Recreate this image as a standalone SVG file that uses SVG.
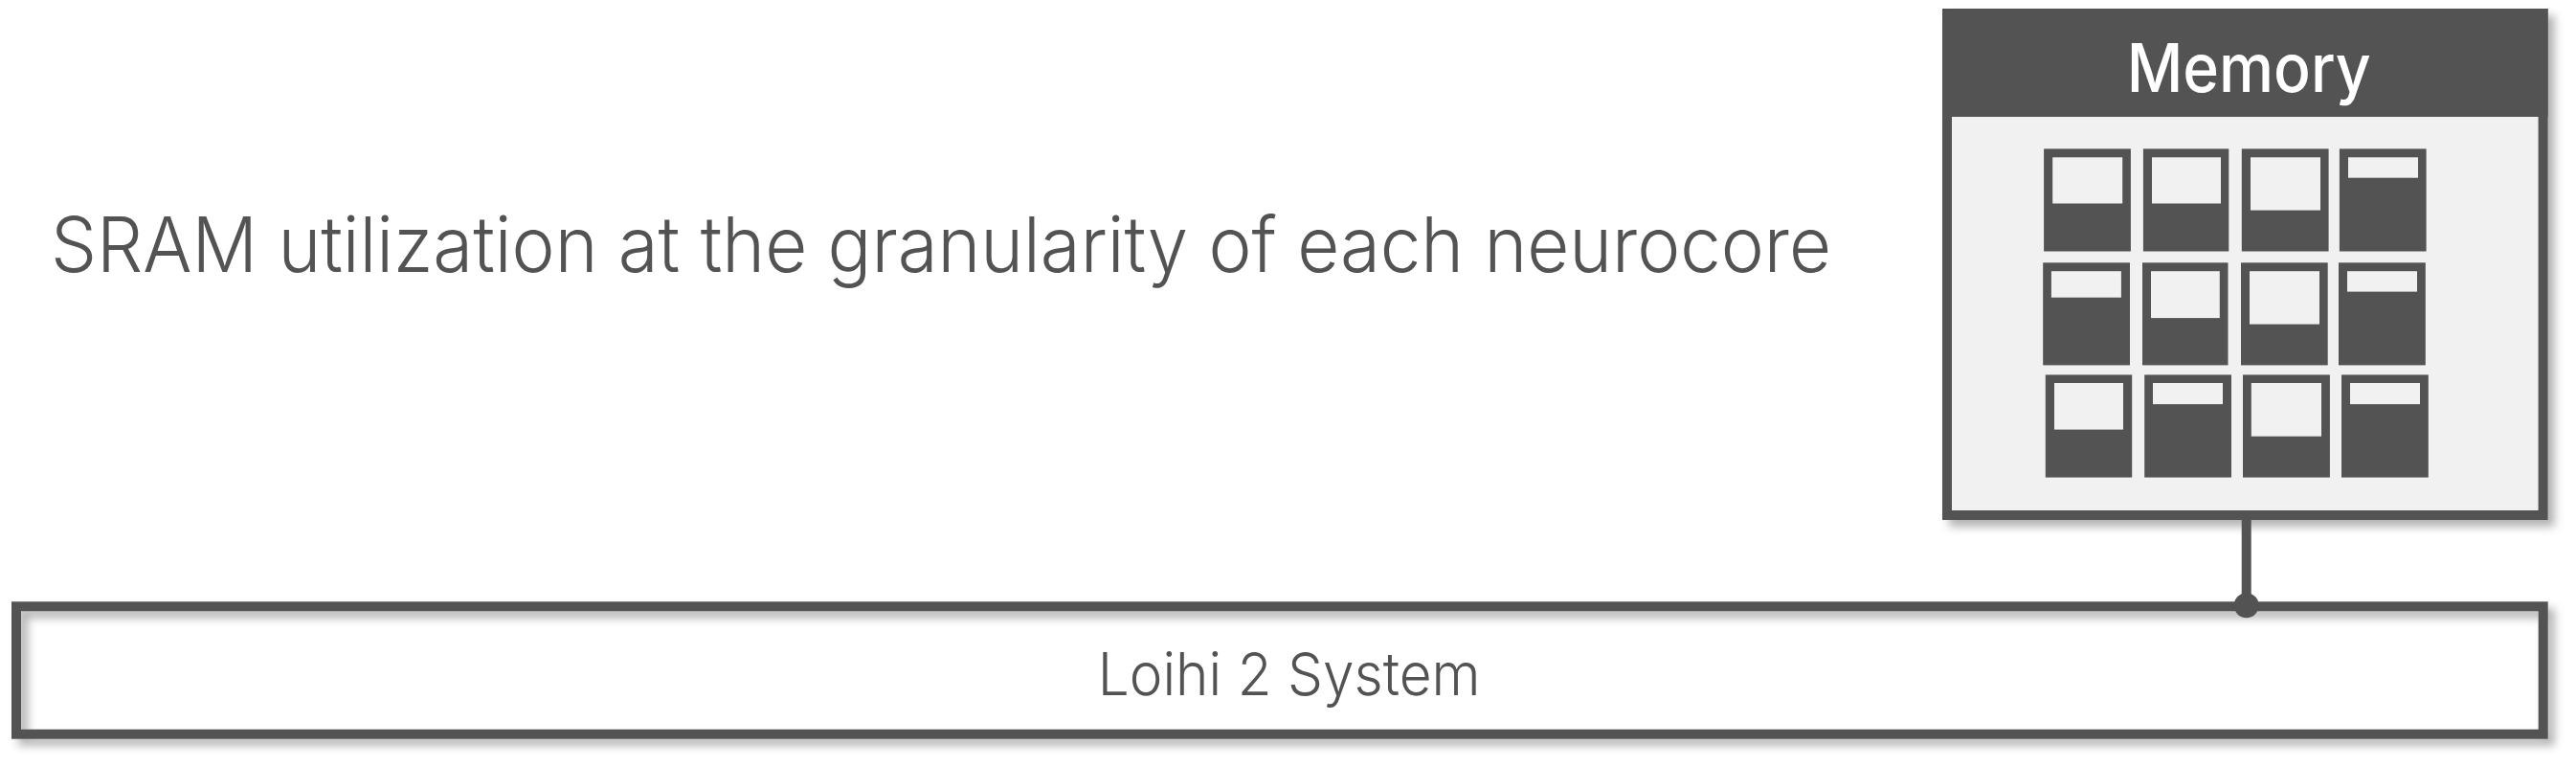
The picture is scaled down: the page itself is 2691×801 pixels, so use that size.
<svg xmlns="http://www.w3.org/2000/svg" width="2691" height="801" viewBox="0 0 2691 801">
  <defs>
    <filter id="shadow" x="-5%" y="-20%" width="110%" height="140%">
      <feDropShadow dx="7" dy="7" stdDeviation="5" flood-color="#000" flood-opacity="0.3"/>
    </filter>
    <style>
      .ink { fill: #535353; }
      .lite { fill: #f1f1f1; }
      .lbl { font-family: Inter, "Liberation Sans", sans-serif; fill: #535353; font-weight: 300; }
      .cell { fill: #535353; }
    </style>
  </defs>
  <rect width="2691" height="801" fill="#ffffff"/>

  <g id="title">
    <text class="lbl" x="53" y="284" font-size="80" textLength="1860" lengthAdjust="spacingAndGlyphs">SRAM utilization at the granularity of each neurocore</text>
  </g>

  <g id="loihi-system">
    <rect x="17" y="633.3" width="2639.7" height="133.4" fill="none" stroke="#535353" stroke-width="10" filter="url(#shadow)"/>
    <text class="lbl" x="1146.7" y="725.7" font-size="62" textLength="400" lengthAdjust="spacingAndGlyphs">Loihi 2 System</text>
  </g>

  <g id="memory">
    <g filter="url(#shadow)">
      <rect x="2034" y="14" width="622.6" height="524" fill="#f1f1f1" stroke="#535353" stroke-width="10"/>
    </g>
    <rect x="2029" y="9" width="632.6" height="113" class="ink"/>
    <text x="2221.7" y="96" font-size="70" font-weight="500" fill="#ffffff" font-family="Inter, 'Liberation Sans', sans-serif" textLength="255" lengthAdjust="spacingAndGlyphs">Memory</text>

    <g id="cells">
      <!-- row 1 -->
      <rect class="cell" x="2135.1" y="155.4" width="90.8" height="107.1"/>
      <rect class="lite" x="2144.2" y="164.3" width="73" height="48.2"/>
      <rect class="cell" x="2238.9" y="155.4" width="89.4" height="107.1"/>
      <rect class="lite" x="2248" y="164.3" width="72" height="48.2"/>
      <rect class="cell" x="2341.8" y="155.4" width="90.8" height="107.1"/>
      <rect class="lite" x="2351" y="164.3" width="73" height="55.3"/>
      <rect class="cell" x="2443.9" y="155.4" width="90.7" height="107.1"/>
      <rect class="lite" x="2453" y="164.3" width="73" height="21.4"/>
      <!-- row 2 -->
      <rect class="cell" x="2134.2" y="274.3" width="90.8" height="107.1"/>
      <rect class="lite" x="2142.9" y="283.2" width="73" height="27.5"/>
      <rect class="cell" x="2238" y="274.3" width="89.5" height="107.1"/>
      <rect class="lite" x="2247" y="283.2" width="71.8" height="48.9"/>
      <rect class="cell" x="2341" y="274.3" width="90.7" height="107.1"/>
      <rect class="lite" x="2350" y="283.2" width="73" height="55.4"/>
      <rect class="cell" x="2443" y="274.3" width="90.8" height="107.1"/>
      <rect class="lite" x="2452" y="283.2" width="73" height="21.4"/>
      <!-- row 3 -->
      <rect class="cell" x="2136.8" y="391.4" width="90.4" height="107.2"/>
      <rect class="lite" x="2146" y="400" width="72" height="48.6"/>
      <rect class="cell" x="2240.2" y="391.4" width="90.8" height="107.2"/>
      <rect class="lite" x="2249" y="400" width="73" height="22.1"/>
      <rect class="cell" x="2343" y="391.4" width="90.9" height="107.2"/>
      <rect class="lite" x="2351.8" y="400" width="73.2" height="55.7"/>
      <rect class="cell" x="2446" y="391.4" width="90.8" height="107.2"/>
      <rect class="lite" x="2455" y="400" width="73" height="22.1"/>
    </g>
  </g>

  <g id="connectors">
    <line x1="2346.7" y1="543" x2="2346.7" y2="632" stroke="#535353" stroke-width="10"/>
    <circle cx="2346.7" cy="632.3" r="13" fill="#535353"/>
  </g>
</svg>
